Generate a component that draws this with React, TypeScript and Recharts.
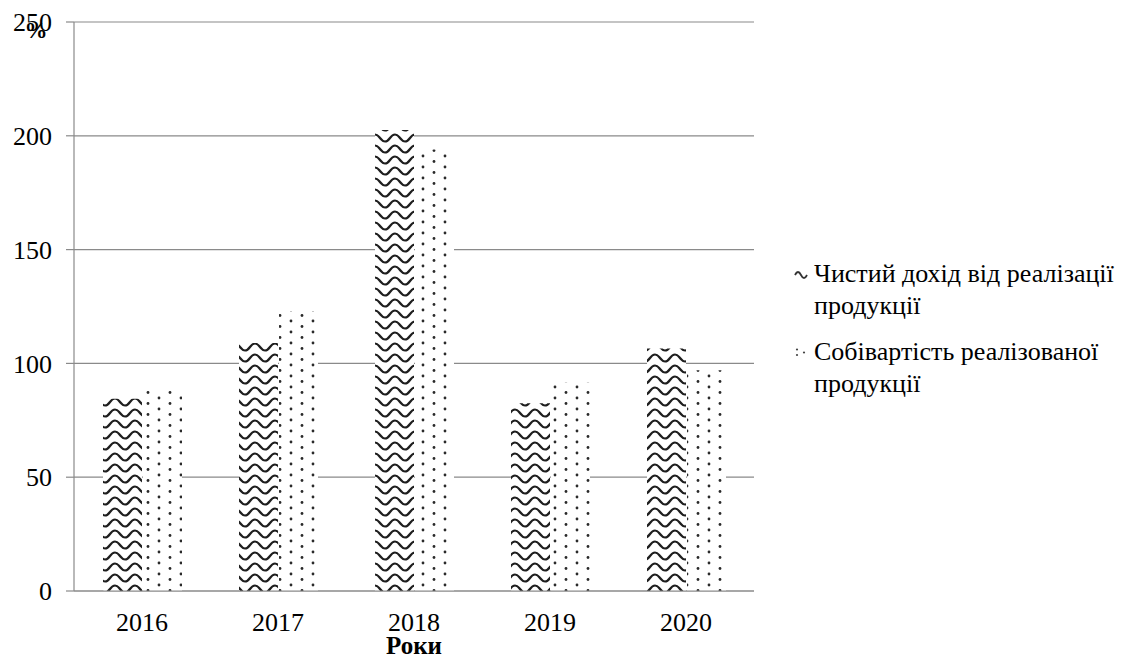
import React from 'react';
import { BarChart, Bar, XAxis, YAxis, CartesianGrid, Legend } from 'recharts';

// Yearly indices, %
const years = ['2016', '2017', '2018', '2019', '2020'];
const netIncome = [84.5, 109, 202.5, 82.5, 106.5];
const costOfSales = [88, 123, 194, 91.5, 97];
const yTicks = [0, 50, 100, 150, 200, 250];
const edgeTicks = [0, 1, 2, 3, 4, 5];
const seriesNames = ['Чистий дохід від реалізації продукції', 'Собівартість реалізованої продукції'];

const data = years.map((year, i) => ({ year, income: netIncome[i], cost: costOfSales[i] }));

const FONT = '"Liberation Serif", serif';
const GRID = '#8a8a8a';

const WaveIcon = () => (
  <svg width={14} height={10} style={{ display: 'block' }}>
    <path d="M1 6 Q4 0 7 6 T13 6" stroke="#333" strokeWidth={1.8} fill="none" />
  </svg>
);

const DotIcon = () => (
  <svg width={14} height={10} style={{ display: 'block' }}>
    <circle cx={3} cy={2.5} r={1.1} fill="#444" />
    <circle cx={3} cy={8} r={1.1} fill="#444" />
    <circle cx={10} cy={5.5} r={1.1} fill="#444" />
  </svg>
);

const renderLegend = () => (
  <div style={{ fontFamily: FONT, fontSize: 26, lineHeight: '32px', color: '#000', paddingLeft: 40 }}>
    {seriesNames.map((name, i) => (
      <div key={name} style={{ display: 'flex', alignItems: 'flex-start', marginBottom: i === 0 ? 14 : 0 }}>
        <div style={{ width: 20, paddingTop: 11 }}>{i === 0 ? <WaveIcon /> : <DotIcon />}</div>
        <div style={{ width: 322 }}>{name}</div>
      </div>
    ))}
  </div>
);

export default function App() {
  return (
    <div style={{ position: 'absolute', left: 0, top: 0, background: '#fff' }}>
      <BarChart
        width={1136}
        height={658}
        data={data}
        margin={{ top: 22, right: 0, bottom: 0, left: 0 }}
        barSize={39}
        barGap={1}
      >
        <defs>
          <pattern id="wavePattern" patternUnits="userSpaceOnUse" width={20} height={11}>
            <rect width={20} height={11} fill="#fff" />
            <path d="M-10 6 Q-5 -1 0 6 T10 6 T20 6 T30 6" stroke="#1e1e1e" strokeWidth={2.2} fill="none" />
          </pattern>
          <pattern id="dotPattern" patternUnits="userSpaceOnUse" width={22} height={11}>
            <rect width={22} height={11} fill="#fff" />
            <circle cx={5} cy={2} r={1.4} fill="#2a2a2a" />
            <circle cx={16} cy={7.5} r={1.4} fill="#2a2a2a" />
          </pattern>
        </defs>
        <CartesianGrid vertical={false} stroke={GRID} strokeWidth={1.2} />
        <XAxis
          xAxisId="edges"
          type="number"
          domain={[0, 5]}
          ticks={edgeTicks}
          tickFormatter={() => ''}
          axisLine={false}
          tickLine={{ stroke: GRID, strokeWidth: 1.2 }}
          tickSize={9}
          height={0}
        />
        <XAxis
          dataKey="year"
          axisLine={{ stroke: GRID, strokeWidth: 1.2 }}
          tickLine={false}
          tick={{ fill: '#000', fontFamily: FONT, fontSize: 26 }}
          tickMargin={16}
          height={67}
          label={{
            value: 'Роки',
            position: 'insideBottom',
            offset: 4,
            fill: '#000',
            fontFamily: FONT,
            fontSize: 25,
            fontWeight: 'bold',
          }}
        />
        <YAxis
          domain={[0, 250]}
          ticks={yTicks}
          width={74}
          axisLine={{ stroke: GRID, strokeWidth: 1.2 }}
          tickLine={{ stroke: GRID, strokeWidth: 1.2 }}
          tickSize={8}
          tickMargin={14}
          tick={{ fill: '#000', fontFamily: FONT, fontSize: 26 }}
          label={{
            value: '%',
            position: 'insideTopLeft',
            offset: 0,
            content: (props: any) => {
              const vb = props.viewBox || { x: 0, y: 22 };
              return (
                <text x={vb.x + 36} y={vb.y + 16} textAnchor="middle" fill="#000" fontFamily={FONT} fontSize={23} fontWeight="bold">
                  %
                </text>
              );
            },
          }}
        />
        <Legend layout="vertical" align="right" verticalAlign="middle" content={renderLegend} wrapperStyle={{ width: 382 }} />
        <Bar dataKey="income" name={seriesNames[0]} fill="url(#wavePattern)" isAnimationActive={false} />
        <Bar dataKey="cost" name={seriesNames[1]} fill="url(#dotPattern)" isAnimationActive={false} />
      </BarChart>
    </div>
  );
}
